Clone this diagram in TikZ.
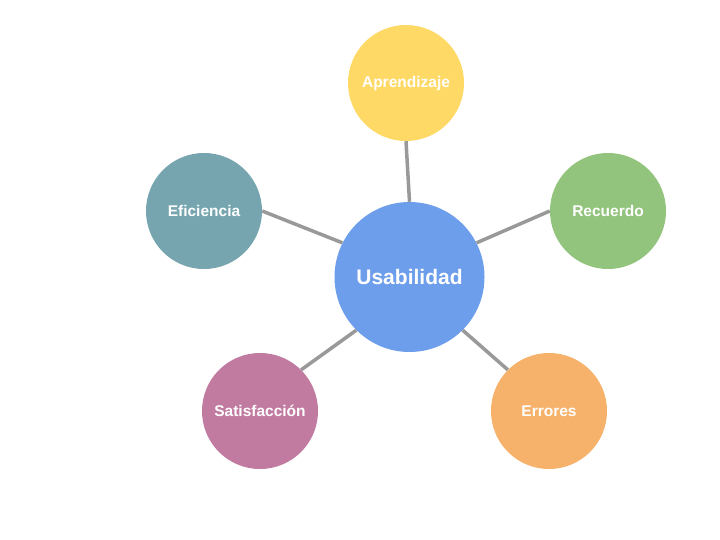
\documentclass[tikz,border=0pt]{standalone}
\usepackage{fontspec}
\setmainfont{Liberation Sans}
\definecolor{azul}{HTML}{6D9EEB}
\definecolor{amarillo}{HTML}{FFD966}
\definecolor{verde}{HTML}{93C47D}
\definecolor{petroleo}{HTML}{76A5AF}
\definecolor{malva}{HTML}{C27BA0}
\definecolor{naranja}{HTML}{F6B26B}
\definecolor{gris}{HTML}{999999}
\tikzset{
  bola/.style={circle,inner sep=0pt,minimum size=116bp,text=white,font=\fontsize{15.5bp}{18bp}\selectfont\bfseries},
  centro/.style={bola,minimum size=150bp,font=\fontsize{21bp}{24bp}\selectfont\bfseries},
  enlace/.style={draw=gris,line width=3.5bp}
}
\begin{document}
\begin{tikzpicture}[x=1bp,y=-1bp]
\useasboundingbox (0,0) rectangle (720,540);
\node[centro,fill=azul] (usa) at (409.5,277) {Usabilidad};
\node[bola,fill=amarillo] (apr) at (406,83) {Aprendizaje};
\node[bola,fill=verde] (rec) at (608,211) {Recuerdo};
\node[bola,fill=petroleo] (efi) at (204,211) {Eficiencia};
\node[bola,fill=malva] (sat) at (260,411) {Satisfacción};
\node[bola,fill=naranja] (err) at (549,411) {Errores};
\draw[enlace] (apr.south) -- (usa.north);
\draw[enlace] (rec.west) -- (usa.27);
\draw[enlace] (efi.east) -- (usa.153);
\draw[enlace] (sat.45) -- (usa.225);
\draw[enlace] (err.135) -- (usa.-45);
\end{tikzpicture}
\end{document}
